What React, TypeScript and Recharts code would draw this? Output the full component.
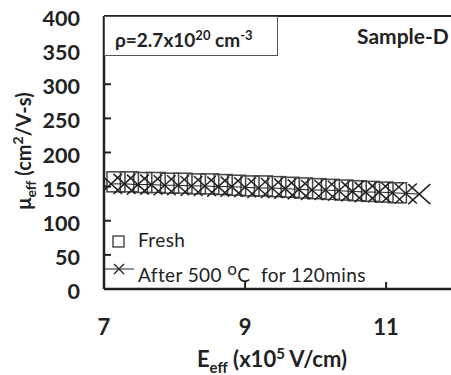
import { ScatterChart, Scatter, XAxis, YAxis, ReferenceLine } from 'recharts';

const freshX = [7.17, 7.36, 7.55, 7.74, 7.93, 8.12, 8.31, 8.5, 8.69, 8.88, 9.07, 9.26, 9.45, 9.64, 9.83, 10.02, 10.21, 10.4, 10.59, 10.78, 10.97, 11.16];
const freshY = [157, 157, 156, 156, 155, 155, 154, 154, 153, 152, 151, 151, 150, 149, 148, 147, 146, 145, 144, 143, 142, 141];

const afterX = [7.1, 7.29, 7.48, 7.67, 7.86, 8.05, 8.24, 8.43, 8.62, 8.81, 9.0, 9.19, 9.38, 9.57, 9.76, 9.95, 10.14, 10.33, 10.52, 10.71, 10.9, 11.09, 11.28, 11.47];
const afterY = [154, 154, 153, 153, 152, 152, 151, 151, 150, 150, 149, 148, 148, 147, 146, 145, 145, 144, 143, 142, 142, 141, 140, 139];

const xTicks = [7, 9, 11];
const yTicks = [0, 50, 100, 150, 200, 250, 300, 350, 400];

const fresh = freshX.map((x, i) => ({ x, y: freshY[i] }));
const after = afterX.map((x, i) => ({ x, y: afterY[i] }));

const INK = '#222';
const FONT = 'Lato, "Open Sans", sans-serif';

const Square = (p: any) => (
  <rect x={p.cx - 9} y={p.cy - 10} width={18} height={20} fill="none" stroke="#444" strokeWidth={1.5} />
);

const Cross = (p: any) => (
  <g stroke={INK} strokeWidth={1.5}>
    <line x1={p.cx - 11} y1={p.cy - 10} x2={p.cx + 11} y2={p.cy + 10} />
    <line x1={p.cx - 11} y1={p.cy + 10} x2={p.cx + 11} y2={p.cy - 10} />
  </g>
);

const XTick = (p: any) => (
  <g>
    {p.payload.value !== 7 && <line x1={p.x} x2={p.x} y1={p.y} y2={p.y - 7} stroke={INK} strokeWidth={2} />}
    <text x={p.x} y={p.y + 46} textAnchor="middle" fontFamily={FONT} fontWeight={700} fontSize={22} fill={INK}>
      {p.payload.value}
    </text>
  </g>
);

const YTick = (p: any) => (
  <g>
    {p.payload.value !== 0 && <line x1={p.x} x2={p.x + 7} y1={p.y} y2={p.y} stroke={INK} strokeWidth={2} />}
    <text x={p.x - 24} y={p.y + 10} textAnchor="end" fontFamily={FONT} fontWeight={700} fontSize={21.5} fill={INK}>
      {p.payload.value}
    </text>
  </g>
);

const MobilityChart = () => {
  return (
    <div style={{ position: 'absolute', left: 0, top: 0, width: 451, height: 375, background: '#fff', fontFamily: FONT, color: INK }}>
      <ScatterChart width={451} height={375} margin={{ top: 16, right: 0, bottom: 0, left: 0 }}>
        <XAxis
          type="number"
          dataKey="x"
          domain={[7, 11.92]}
          allowDataOverflow
          ticks={xTicks}
          height={86}
          tickSize={0}
          tickMargin={0}
          tick={<XTick />}
          stroke={INK}
          strokeWidth={2.5}
        />
        <YAxis
          type="number"
          dataKey="y"
          domain={[0, 400]}
          ticks={yTicks}
          width={104}
          tickSize={0}
          tickMargin={0}
          tick={<YTick />}
          stroke={INK}
          strokeWidth={2.5}
        />
        <ReferenceLine y={400} stroke={INK} strokeWidth={2} />
        <Scatter data={fresh} shape={<Square />} isAnimationActive={false} />
        <Scatter
          data={after}
          shape={<Cross />}
          line={{ stroke: INK, strokeWidth: 1 }}
          lineType="joint"
          isAnimationActive={false}
        />
      </ScatterChart>

      <div style={{ position: 'absolute', left: 104, top: 16, width: 172, height: 38, border: '1px solid #555', background: '#fff' }}>
        <div style={{ position: 'absolute', left: 10, top: 7, fontWeight: 700, fontSize: 19, whiteSpace: 'nowrap', lineHeight: '23px' }}>
          ρ=2.7x10<sup style={{ fontSize: 13 }}>20</sup> cm<sup style={{ fontSize: 13 }}>-3</sup>
        </div>
      </div>
      <div style={{ position: 'absolute', left: 357, top: 23, fontWeight: 700, fontSize: 21, whiteSpace: 'nowrap', lineHeight: '25px' }}>
        Sample-D
      </div>

      <svg style={{ position: 'absolute', left: 100, top: 228 }} width={40} height={50}>
        <rect x={13} y={8} width={11} height={11} fill="none" stroke="#333" strokeWidth={1.3} />
        <line x1={4} x2={34} y1={41} y2={41} stroke={INK} strokeWidth={1} />
        <line x1={14} x2={24} y1={36} y2={46} stroke={INK} strokeWidth={1.2} />
        <line x1={14} x2={24} y1={46} y2={36} stroke={INK} strokeWidth={1.2} />
      </svg>
      <div style={{ position: 'absolute', left: 138, top: 228, fontSize: 19, lineHeight: '24px', whiteSpace: 'nowrap', letterSpacing: 0.4 }}>Fresh</div>
      <div style={{ position: 'absolute', left: 138, top: 257, fontSize: 19, lineHeight: '24px', whiteSpace: 'nowrap', letterSpacing: 0.4 }}>
        After 500 <sup style={{ fontSize: 17 }}>o</sup>C&nbsp; for 120mins
      </div>

      <div style={{ position: 'absolute', left: 272, top: 360, transform: 'translate(-50%, -50%)', fontWeight: 700, fontSize: 22, whiteSpace: 'nowrap' }}>
        E<sub style={{ fontSize: 15 }}>eff</sub> (x10<sup style={{ fontSize: 15 }}>5</sup> V/cm)
      </div>
      <div style={{ position: 'absolute', left: 24, top: 151, transform: 'translate(-50%, -50%) rotate(-90deg)', fontWeight: 700, fontSize: 20, whiteSpace: 'nowrap' }}>
        μ<sub style={{ fontSize: 14 }}>eff</sub> (cm<sup style={{ fontSize: 14 }}>2</sup>/V-s)
      </div>
    </div>
  );
};

export default MobilityChart;
